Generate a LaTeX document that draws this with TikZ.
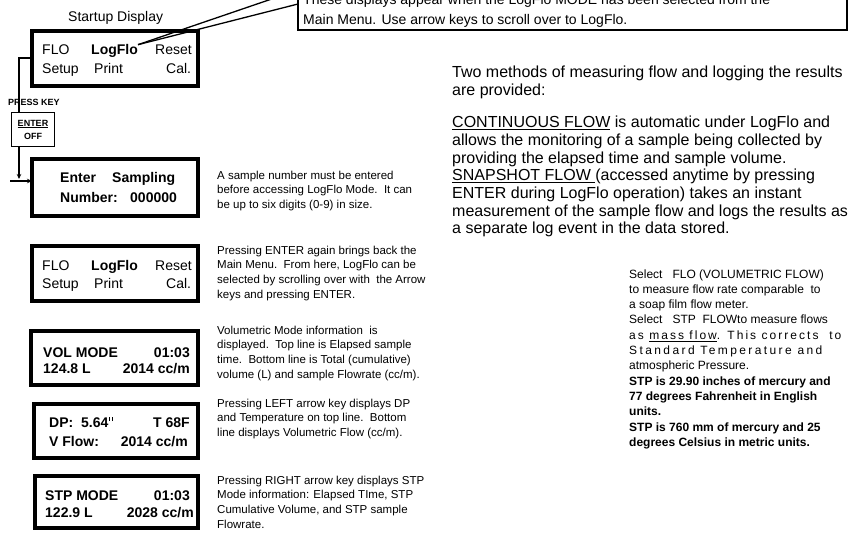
\documentclass[tikz,border=0pt]{standalone}
\usepackage{fontspec}
\setmainfont{Liberation Sans}
\usetikzlibrary{arrows.meta,calc}
\newcommand\inchmark{\kern0.6pt\rule[6pt]{1.4pt}{4.2pt}\kern1.3pt\rule[6pt]{1.4pt}{4.2pt}\kern0.6pt}
\begin{document}
\begin{tikzpicture}[x=1pt,y=-1pt,
  disp/.style={draw, line width=4pt, inner sep=0, outer sep=0},
  bx/.style={inner sep=0, anchor=base west, font=\fontsize{14}{16}\selectfont},
  bxb/.style={inner sep=0, anchor=base west, font=\fontsize{14}{16}\selectfont\bfseries},
  bxbr/.style={inner sep=0, anchor=base east, font=\fontsize{14}{16}\selectfont\bfseries},
  side/.style={inner sep=0, anchor=base west, font=\fontsize{11.5}{14.8}\selectfont},
  big/.style={inner sep=0, anchor=base west, font=\fontsize{16}{17.6}\selectfont},
  small/.style={inner sep=0, anchor=base west, font=\fontsize{12}{15.3}\selectfont},
  conn/.style={line width=1.2pt},
  callline/.style={line width=1.3pt},
  tip/.style={-{Stealth[length=5pt,width=4.5pt]}}]
\useasboundingbox (0,0) rectangle (850,532);

% callout box at top
\node[draw, line width=2pt, inner sep=0, outer sep=0, minimum width=549, minimum height=60, anchor=south west] (call) at (298,30) {};
\node[inner sep=0, anchor=base west, font=\fontsize{14}{20}\selectfont] (calltext) at (303,5)
  {\vtop{\hbox{These displays appear when the LogFlo MODE has been selected from the}\hbox{Main Menu. Use arrow keys to scroll over to LogFlo.}}};

% title
\node[bx] (title) at (68,22) {Startup Display};

% display boxes
\node[disp, minimum width=166, minimum height=55] (b1) at (115,58.8) {};
\node[disp, minimum width=166, minimum height=57] (b2) at (115,187.5) {};
\node[disp, minimum width=166, minimum height=55] (b3) at (115,273.5) {};
\node[disp, minimum width=167, minimum height=54] (b4) at (114.5,358) {};
\node[disp, minimum width=164, minimum height=54] (b5) at (116,431) {};
\node[disp, minimum width=163, minimum height=52] (b6) at (116.5,502) {};

% box 1 text
\node[bx] (f1) at (42,55) {FLO};
\node[bxb] (lf1) at (91,55) {LogFlo};
\node[bx] (r1) at (155,55) {Reset};
\node[bx] (s1) at (42,74) {Setup};
\node[bx] (p1) at (94,74) {Print};
\node[bx] (c1) at (166,74) {Cal.};

% box 2 text
\node[bxb] (e2) at (60,182) {Enter};
\node[bxb] (sa2) at (112,182) {Sampling};
\node[bxb] (n2) at (60,202) {Number:};
\node[bxb] (z2) at (130,202) {000000};

% box 3 text
\node[bx] (f3) at (42,270) {FLO};
\node[bxb] (lf3) at (91,270) {LogFlo};
\node[bx] (r3) at (155,270) {Reset};
\node[bx] (s3) at (42,288) {Setup};
\node[bx] (p3) at (94,288) {Print};
\node[bx] (c3) at (166,288) {Cal.};

% box 4 text
\node[bxb] (v4) at (43,357) {VOL MODE};
\node[bxbr] (t4) at (190,357) {01:03};
\node[bxb] (l4) at (43,373) {124.8 L};
\node[bxbr] (q4) at (190,373) {2014 cc/m};

% box 5 text
\node[bxb] (d5) at (49,427) {DP:\ \ 5.64\inchmark};
\node[bxbr] (t5) at (190,427) {T 68F};
\node[bxb] (v5) at (49,446) {V Flow:};
\node[bxbr] (q5) at (188,446) {2014 cc/m};

% box 6 text
\node[bxb] (m6) at (45,500) {STP MODE};
\node[bxbr] (t6) at (190,500) {01:03};
\node[bxb] (l6) at (45,517) {122.9 L};
\node[bxbr] (q6) at (194,517) {2028 cc/m};

% side descriptions
\node[side] (d2) at (217,179) {\vtop{\hbox{A sample number must be entered}\hbox{before accessing LogFlo Mode.\ \ It can}\hbox{be up to six digits (0-9) in size.}}};
\node[side] (d3) at (217,254) {\vtop{\hbox{Pressing ENTER again brings back the}\hbox{Main Menu.\ \ From here, LogFlo can be}\hbox{selected by scrolling over with\ \ the Arrow}\hbox{keys and pressing ENTER.}}};
\node[side] (d4) at (217,334) {\vtop{\hbox{Volumetric Mode information\ \ is}\hbox{displayed.\ \ Top line is Elapsed sample}\hbox{time.\ \ Bottom line is Total (cumulative)}\hbox{volume (L) and sample Flowrate (cc/m).}}};
\node[side] (dd5) at (217,407) {\vtop{\hbox{Pressing LEFT arrow key displays DP}\hbox{and Temperature on top line.\ \ Bottom}\hbox{line displays Volumetric Flow (cc/m).}}};
\node[side] (dd6) at (217,484) {\vtop{\hbox{Pressing RIGHT arrow key displays STP}\hbox{Mode information: Elapsed TIme, STP}\hbox{Cumulative Volume, and STP sample}\hbox{Flowrate.}}};

% right paragraphs
\node[big] (intro) at (452,78) {\vtop{\hbox{Two methods of measuring flow and logging the results}\hbox{are provided:}}};
\node[big] (methods) at (452,128) {\vtop{%
  \hbox{\underline{CONTINUOUS FLOW} is automatic under LogFlo and}%
  \hbox{allows the monitoring of a sample being collected by}%
  \hbox{providing the elapsed time and sample volume.}%
  \hbox{\underline{SNAPSHOT FLOW\ }(accessed anytime by pressing}%
  \hbox{ENTER during LogFlo operation) takes an instant}%
  \hbox{measurement of the sample flow and logs the results as}%
  \hbox{a separate log event in the data stored.}}};

\node[small] (stp) at (629,278) {\vtop{%
  \hbox{Select\ \ \ FLO (VOLUMETRIC FLOW)}%
  \hbox{to measure flow rate comparable\ \ to}%
  \hbox{a soap film flow meter.}%
  \hbox{Select\ \ \ STP\ \ FLOWto measure flows}%
  \hbox{\addfontfeature{LetterSpace=17}as \underline{mass flow}. This corrects\ \ to}%
  \hbox{\addfontfeature{LetterSpace=20}Standard Temperature and}%
  \hbox{atmospheric Pressure.}%
  \hbox{\bfseries STP is 29.90 inches of mercury and}%
  \hbox{\bfseries 77 degrees Fahrenheit in English}%
  \hbox{\bfseries units.}%
  \hbox{\bfseries STP is 760 mm of mercury and 25}%
  \hbox{\bfseries degrees Celsius in metric units.}}};

% press key
\node[inner sep=0, anchor=base west, font=\fontsize{9}{10}\selectfont\bfseries] (press) at (8,106) {PRESS KEY};
\node[draw, line width=1.4pt, inner sep=0, outer sep=0, minimum width=43, minimum height=34, align=center, font=\fontsize{9}{13}\selectfont\bfseries] (enter) at (33,129.5) {\underline{ENTER}\\OFF};

% connectors
\coordinate (k1) at (19,58);
\coordinate (k2) at (19,179);
\coordinate (k3) at (10,181);
\draw[conn] (b1.west |- k1) -- (k1) -- (k1 |- enter.north);
\draw[conn, tip] (k1 |- enter.south) -- (k2);
\draw[conn, tip] (k3) -- (k3 -| b2.west);

% callout leaders
\draw[callline] (lf1.north east) -- ($(call.south west)+(0,-26)$);
\draw[callline] (lf1.north east) -- ($(call.south west)+(0,-40)$);
\end{tikzpicture}
\end{document}
